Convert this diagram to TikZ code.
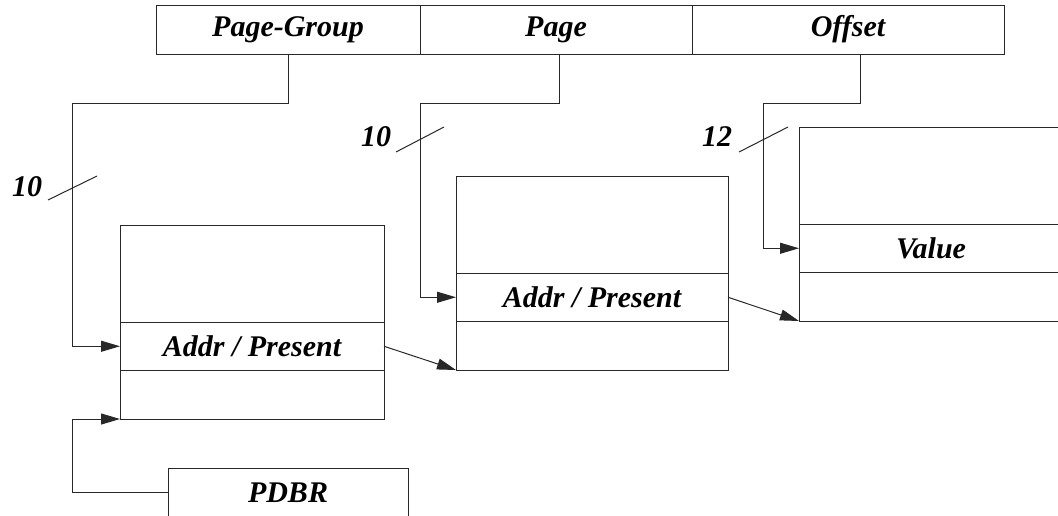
\documentclass[tikz,border=0pt]{standalone}
\usepackage{fontspec}
\setmainfont{Liberation Serif}
\usetikzlibrary{arrows.meta,positioning}
\definecolor{wiregray}{RGB}{40,40,40}

\begin{document}
\begin{tikzpicture}[
    x=0.5pt, y=-0.5pt,
    font=\fontsize{15pt}{18pt}\selectfont\bfseries\itshape,
    field/.style={
        rectangle,
        draw=wiregray,
        line width=0.5pt,
        inner sep=0pt,
        outer sep=0pt,
        minimum height=24.5pt
    },
    cell/.style={
        field,
        minimum width=132pt,
        minimum height=24.25pt
    },
    arrow/.style={-{Triangle[length=9.5pt,width=5.5pt]}, line width=0.5pt, draw=wiregray},
    wire/.style={line width=0.5pt, draw=wiregray},
    bits/.style={inner sep=0pt}
]
\clip (0,0) rectangle (1058,515);

% Virtual address
\node[field, minimum width=132pt] (pg) at (288,29.5) {Page-Group};
\node[field, minimum width=136pt, right=0pt of pg] (page) {Page};
\node[field, minimum width=156pt, right=0pt of page] (off) {Offset};

% Page directory
\node[cell, minimum height=48.5pt] (dirtop) at (252,273.5) {};
\node[cell, below=0pt of dirtop] (dirent) {Addr / Present};
\node[cell, below=0pt of dirent] (dirbot) {};

% Page table
\node[cell, minimum width=136pt, minimum height=48.5pt] (pttop) at (592,224.5) {};
\node[cell, minimum width=136pt, below=0pt of pttop] (ptent) {Addr / Present};
\node[cell, minimum width=136pt, below=0pt of ptent] (ptbot) {};

% Page frame
\node[cell, minimum height=48.5pt] (frtop) at (931,175.5) {};
\node[cell, below=0pt of frtop] (frent) {Value};
\node[cell, below=0pt of frent] (frbot) {};

% Base register
\node[field, minimum width=120pt] (pdbr) at (288,492.5) {PDBR};

% Bend points
\coordinate (pgbend) at (72,103);
\coordinate (pagebend) at (420,103);
\coordinate (offbend) at (763,103);
\coordinate (pdbrbend) at (72,419);

% Index paths
\draw[arrow] (pg.south) |- (pgbend) |- (dirent.west);
\draw[arrow] ([xshift=1.5pt]page.south) |- (pagebend) |- (ptent.west);
\draw[arrow] ([xshift=6pt]off.south) |- (offbend) |- (frent.west);
\draw[arrow] (pdbr.west) -| (pdbrbend) -- (dirbot.south west);

% Table walk
\draw[arrow] (dirent.east) -- (ptbot.south west);
\draw[arrow] (ptent.east) -- (frbot.south west);

% Bit widths
\node[bits] (pgbits) at (27,187) {10};
\node[bits] (pagebits) at (376,137) {10};
\node[bits] (offbits) at (717,137) {12};
\draw[wire] (48,200) -- (97,176);
\draw[wire] (396,152) -- (444,127);
\draw[wire] (739,152) -- (788,127);

\end{tikzpicture}
\end{document}
